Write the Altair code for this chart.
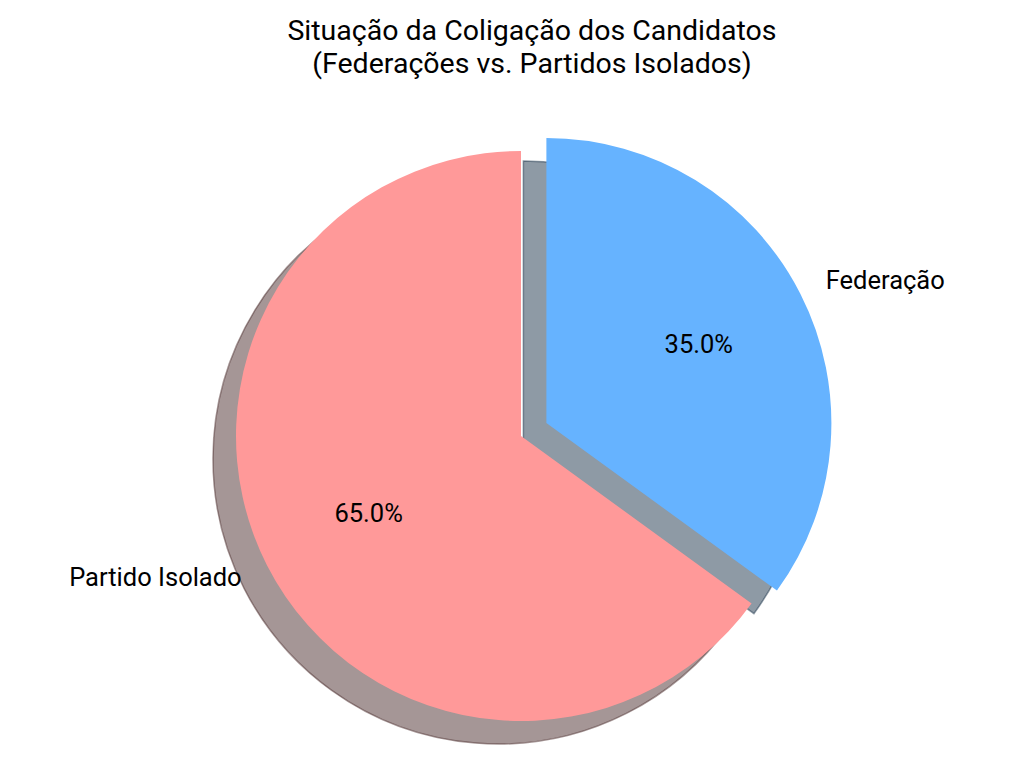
import math

import altair as alt
import pandas as pd


# Dados do gráfico
rotulos = ["Federação", "Partido Isolado"]
valores = [35.0, 65.0]
explosao = [0.1, 0.0]
cores = ["#66b3ff", "#ff9999"]

RAIO = 285
SOMBRA = (-23, 23)
FONTE = "Roboto"


def escurecer(cor_hex: str, fator: float = 0.3) -> str:
    """Escurece uma cor como a sombra do matplotlib."""
    r, g, b = (int(cor_hex[i:i + 2], 16) for i in (1, 3, 5))
    return "#{:02x}{:02x}{:02x}".format(int(r * fator), int(g * fator), int(b * fator))


df = pd.DataFrame({"rotulo": rotulos, "valor": valores, "ordem": range(len(rotulos))})
total = sum(valores)
escala_theta = alt.Scale(domain=[0, total], range=[0, 2 * math.pi])

base = alt.Chart(df).transform_stack(
    stack="valor", groupby=[], as_=["v0", "v1"], sort=[alt.SortField("ordem")]
).transform_calculate(meio="(datum.v0 + datum.v1) / 2")

sombras, fatias, textos = [], [], []
acumulado = 0.0
for rotulo, valor, exp, cor in zip(rotulos, valores, explosao, cores):
    # ângulo médio da fatia (horário a partir do topo)
    meio = (acumulado + valor / 2) / total * 2 * math.pi
    acumulado += valor
    dx = exp * RAIO * math.sin(meio)
    dy = -exp * RAIO * math.cos(meio)
    fatia = base.transform_filter(alt.datum.rotulo == rotulo)

    sombra = escurecer(cor)
    sombras.append(
        fatia.mark_arc(
            radius=RAIO, xOffset=dx + SOMBRA[0], yOffset=dy + SOMBRA[1],
            fill=sombra, fillOpacity=0.5, stroke=sombra, strokeOpacity=0.5, strokeWidth=1.5,
        ).encode(theta=alt.Theta("v0:Q", scale=escala_theta), theta2="v1:Q")
    )
    fatias.append(
        fatia.mark_arc(radius=RAIO, xOffset=dx, yOffset=dy, fill=cor).encode(
            theta=alt.Theta("v0:Q", scale=escala_theta), theta2="v1:Q"
        )
    )
    lado = "left" if math.sin(meio) >= 0 else "right"
    textos.append(
        fatia.mark_text(
            radius=1.1 * RAIO, xOffset=dx, yOffset=dy, align=lado, baseline="middle",
            font=FONTE, fontSize=25.5, color="black",
        ).encode(theta=alt.Theta("meio:Q", scale=escala_theta), text="rotulo:N")
    )
    textos.append(
        fatia.transform_calculate(pct="format(datum.valor / %f, '.1%%')" % total)
        .mark_text(
            radius=0.6 * RAIO, xOffset=dx, yOffset=dy, align="center", baseline="middle",
            font=FONTE, fontSize=25.5, color="black",
        ).encode(theta=alt.Theta("meio:Q", scale=escala_theta), text="pct:N")
    )

chart = alt.layer(*sombras, *fatias, *textos).properties(
    width=980,
    height=640,
    title=alt.TitleParams(
        ["Situação da Coligação dos Candidatos", "(Federações vs. Partidos Isolados)"],
        font=FONTE, fontSize=28.5, fontWeight="normal", color="black",
        anchor="middle", dx=11, offset=38, lineHeight=33,
    ),
    autosize=alt.AutoSizeParams(type="none"),
    padding={"left": 23, "top": 108, "right": 0, "bottom": 0},
).configure_view(strokeWidth=0)

chart.save("out.html", embed_options={"renderer": "svg", "actions": False})
